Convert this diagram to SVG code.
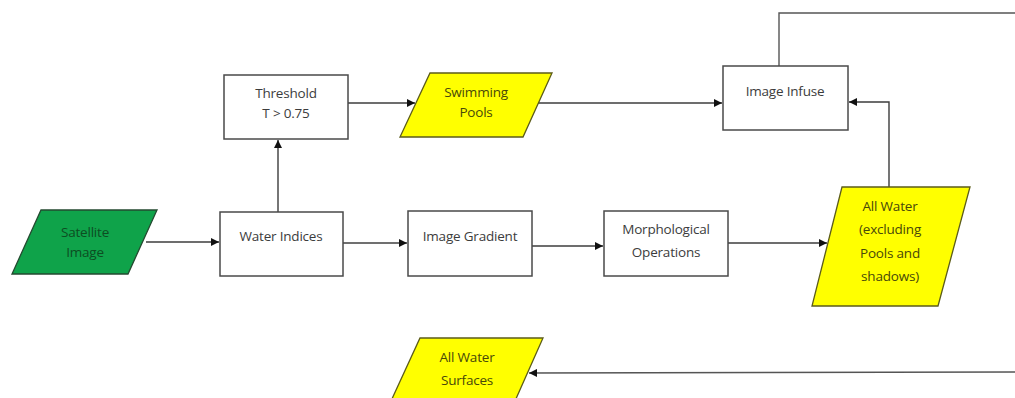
<svg xmlns="http://www.w3.org/2000/svg" width="1015" height="398" viewBox="0 0 1015 398">
<style>
.box{fill:#fff;stroke:#4a4a4a;stroke-width:1.5}
.yel{fill:#ffff00;stroke:#5c5c1a;stroke-width:1.3}
.grn{fill:#0fa34a;stroke:#244a30;stroke-width:1.3}
.t{font-family:"Open Sans","Liberation Sans",sans-serif;font-size:13.5px;fill:#3c3c3c;text-anchor:middle;letter-spacing:-0.2px}
.ty{fill:#48480a}
.tg{fill:#0d4d22}
.c{fill:none;stroke:#3c3c3c;stroke-width:1.4}
</style>
<defs>
<marker id="ah" viewBox="0 0 10 10" refX="10" refY="5" markerWidth="8" markerHeight="8" markerUnits="userSpaceOnUse" orient="auto">
<path d="M0,0 L10,5 L0,10 z" fill="#111"/>
</marker>
</defs>
<g id="connectors">
<line class="c" x1="146" y1="242" x2="219" y2="242" marker-end="url(#ah)"/>
<line class="c" x1="278" y1="212" x2="278" y2="140" marker-end="url(#ah)"/>
<line class="c" x1="348" y1="103" x2="415" y2="103" marker-end="url(#ah)"/>
<line class="c" x1="538" y1="103" x2="722" y2="103" marker-end="url(#ah)"/>
<line class="c" x1="343" y1="243" x2="407" y2="243" marker-end="url(#ah)" style="stroke:#707070;stroke-width:1.8"/>
<line class="c" x1="532" y1="246" x2="603" y2="246" marker-end="url(#ah)"/>
<line class="c" x1="728" y1="243" x2="827" y2="243" marker-end="url(#ah)"/>
<polyline class="c" points="889,187 889,102 849,102" marker-end="url(#ah)"/>
<polyline class="c" points="779,66 779,13 1015,13" style="stroke:#555"/>
<line class="c" x1="1015" y1="372" x2="529" y2="373" marker-end="url(#ah)" style="stroke:#555"/>
</g>
<g id="satellite">
<polygon class="grn" points="41,210 157,210 128,274 12,274"/>
<text class="t tg" x="85" y="237">Satellite</text>
<text class="t tg" x="85" y="257">Image</text>
</g>
<g id="water-indices">
<rect class="box" x="220" y="212" width="123" height="64"/>
<text class="t" x="281" y="241">Water Indices</text>
</g>
<g id="threshold">
<rect class="box" x="224" y="75" width="124" height="64"/>
<text class="t" x="286" y="98">Threshold</text>
<text class="t" x="286" y="118">T &gt; 0.75</text>
</g>
<g id="swimming-pools">
<polygon class="yel" points="430,73 552,73 523,137 400,137"/>
<text class="t ty" x="476" y="97">Swimming</text>
<text class="t ty" x="476" y="117">Pools</text>
</g>
<g id="image-infuse">
<rect class="box" x="723" y="66" width="125" height="64"/>
<text class="t" x="785" y="96">Image Infuse</text>
</g>
<g id="image-gradient">
<rect class="box" x="408" y="211" width="124" height="65"/>
<text class="t" x="470" y="241">Image Gradient</text>
</g>
<g id="morphological">
<rect class="box" x="604" y="211" width="124" height="65"/>
<text class="t" x="666" y="234">Morphological</text>
<text class="t" x="666" y="257">Operations</text>
</g>
<g id="all-water">
<polygon class="yel" points="842,187 970,187 938,306 812,306"/>
<text class="t ty" x="890" y="211">All Water</text>
<text class="t ty" x="890" y="234">(excluding</text>
<text class="t ty" x="890" y="258">Pools and</text>
<text class="t ty" x="890" y="281">shadows)</text>
</g>
<g id="all-water-surfaces">
<polygon class="yel" points="420,338 543,338 515,401 391,401"/>
<text class="t ty" x="467" y="362">All Water</text>
<text class="t ty" x="467" y="385">Surfaces</text>
</g>
</svg>
